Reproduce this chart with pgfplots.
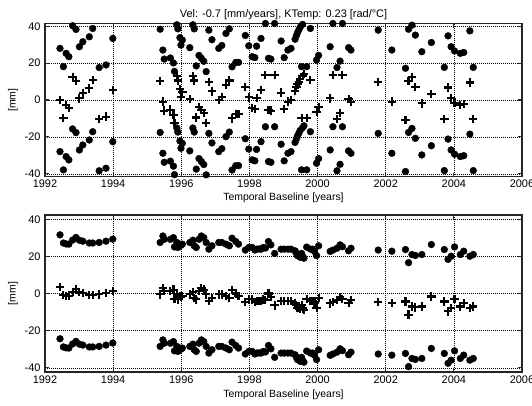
\documentclass[border=0pt]{standalone}
\usepackage{fontspec}
\setmainfont{Liberation Sans}
\usepackage{pgfplots}
\usepackage{pgfplotstable}
\pgfplotsset{compat=1.18}

% t: acquisition date, c: residual phase [mm], u/l: the same residual shifted by +/- one ambiguity (28 mm)
\pgfplotstableread{
t c u l
1992.44 0.0 28.0 -28.0
1992.54 -9.9 18.1 -37.9
1992.62 -2.7 25.3 -30.7
1992.70 -4.5 23.5 -32.5
1992.81 12.3 40.3 -15.7
1992.91 10.3 38.3 -17.7
1993.01 0.9 28.9 -27.1
1993.11 3.6 31.6 -24.4
1993.30 6.3 34.3 -21.7
1993.40 10.8 38.8 -17.2
1993.59 -10.4 17.6 -38.4
1993.79 -9.0 19.0 -37.0
1993.99 5.4 33.4 -22.6
1995.38 10.4 38.4 -17.6
1995.46 -0.9 27.1 -28.9
1995.50 -5.8 22.2 -33.8
1995.68 -5.2 22.8 -33.2
1995.77 -7.9 20.1 -35.9
1995.80 -12.5 15.5 -40.5
1995.87 12.8 40.8 -15.2
1995.90 10.6 38.6 -17.4
1995.96 5.8 33.8 -22.2
1995.99 1.8 29.8 -26.2
1996.03 4.5 32.5 -23.5
1996.25 0.4 28.4 -27.6
1996.34 12.8 40.8 -15.2
1996.38 10.6 38.6 -17.4
1996.44 -9.5 18.5 -37.5
1996.52 -3.8 24.2 -31.8
1996.59 -5.4 22.6 -33.4
1996.66 -7.0 21.0 -35.0
1996.73 -12.6 15.4 -40.6
1996.81 9.9 37.9 -18.1
1996.90 4.7 32.7 -23.3
1997.10 0.0 28.0 -28.0
1997.19 1.6 29.6 -26.4
1997.31 8.1 36.1 -19.9
1997.41 10.6 38.6 -17.4
1997.49 -10.0 18.0 -38.0
1997.60 -7.6 20.4 -35.6
1997.68 -7.6 20.4 -35.6
1997.88 7.0 35.0 -21.0
1997.98 1.4 29.4 -26.6
1998.08 -4.5 23.5 -32.5
1998.16 -5.0 23.0 -33.0
1998.21 1.2 29.2 -26.8
1998.34 5.4 33.4 -22.6
1998.47 13.5 41.5 -14.5
1998.56 -5.4 22.6 -33.4
1998.63 -5.8 22.2 -33.8
1998.74 13.5 41.5 -14.5
1998.93 4.0 32.0 -24.0
1999.02 -5.0 23.0 -33.0
1999.13 -0.9 27.1 -28.9
1999.22 0.0 28.0 -28.0
1999.34 5.0 33.0 -23.0
1999.38 7.0 35.0 -21.0
1999.41 8.5 36.5 -19.5
1999.45 10.0 38.0 -18.0
1999.49 11.5 39.5 -16.5
1999.53 -9.9 18.1 -37.9
1999.56 13.0 41.0 -15.0
1999.60 14.0 42.0 -14.0
1999.68 -9.9 18.1 -37.9
1999.79 10.8 38.8 -17.2
1999.97 -6.3 21.7 -34.3
2000.03 -3.8 24.2 -31.8
2000.37 0.9 28.9 -27.1
2000.45 13.5 41.5 -14.5
2000.57 -10.4 17.6 -38.4
2000.66 -6.9 21.1 -34.9
2000.73 13.5 41.5 -14.5
2000.91 0.4 28.4 -27.6
2000.98 -0.9 27.1 -28.9
2001.78 9.9 37.9 -18.1
2002.18 -0.9 27.1 -28.9
2002.58 -10.8 17.2 -38.8
2002.67 10.4 38.4 -17.6
2002.77 12.6 40.6 -15.4
2002.87 7.2 35.2 -20.8
2003.06 -1.8 26.2 -29.8
2003.34 3.2 31.2 -24.8
2003.72 -10.3 17.7 -38.3
2003.83 6.8 34.8 -21.2
2003.92 0.9 28.9 -27.1
2004.02 -1.4 26.6 -29.4
2004.19 -2.7 25.3 -30.7
2004.29 -2.2 25.8 -30.2
2004.47 9.5 37.5 -18.5
2004.57 -10.3 17.7 -38.3
}\wrapped

\pgfplotstableread{
t c u l
1992.44 3.6 31.6 -24.4
1992.54 -0.8 27.2 -28.8
1992.62 -1.3 26.7 -29.3
1992.70 -1.4 26.6 -29.4
1992.81 0.8 28.8 -27.2
1992.91 2.2 30.2 -25.8
1993.01 0.7 28.7 -27.3
1993.11 0.2 28.2 -27.8
1993.30 -0.8 27.2 -28.8
1993.40 -0.8 27.2 -28.8
1993.59 -0.5 27.5 -28.5
1993.79 0.2 28.2 -27.8
1993.99 1.3 29.3 -26.7
1995.38 -0.5 27.5 -28.5
1995.46 3.0 31.0 -25.0
1995.50 1.2 29.2 -26.8
1995.68 1.2 29.2 -26.8
1995.77 2.1 30.1 -25.9
1995.80 -2.9 25.1 -30.9
1995.87 -0.5 27.5 -28.5
1995.90 -3.2 24.8 -31.2
1995.96 -1.4 26.6 -29.4
1995.99 -2.0 26.0 -30.0
1996.03 -1.4 26.6 -29.4
1996.25 -0.5 27.5 -28.5
1996.34 0.7 28.7 -27.3
1996.38 -2.3 25.7 -30.3
1996.44 -3.2 24.8 -31.2
1996.52 1.2 29.2 -26.8
1996.59 3.0 31.0 -25.0
1996.66 2.1 30.1 -25.9
1996.73 -0.5 27.5 -28.5
1996.81 -4.1 23.9 -32.1
1996.90 -2.3 25.7 -30.3
1997.10 -0.5 27.5 -28.5
1997.19 -0.5 27.5 -28.5
1997.31 -1.4 26.6 -29.4
1997.41 -2.3 25.7 -30.3
1997.49 1.8 29.8 -26.2
1997.60 0.0 28.0 -28.0
1997.68 -1.4 26.6 -29.4
1997.88 -4.6 23.4 -32.6
1997.98 -3.2 24.8 -31.2
1998.08 -3.2 24.8 -31.2
1998.16 -4.6 23.4 -32.6
1998.21 -4.1 23.9 -32.1
1998.28 -4.0 24.0 -32.0
1998.34 -4.1 23.9 -32.1
1998.41 -3.2 24.8 -31.2
1998.47 -3.5 24.5 -31.5
1998.56 0.0 28.0 -28.0
1998.63 -1.8 26.2 -29.8
1998.74 -6.4 21.6 -34.4
1998.93 -4.1 23.9 -32.1
1999.02 -4.1 23.9 -32.1
1999.13 -4.1 23.9 -32.1
1999.22 -4.1 23.9 -32.1
1999.34 -5.0 23.0 -33.0
1999.38 -6.4 21.6 -34.4
1999.41 -7.6 20.4 -35.6
1999.45 -7.0 21.0 -35.0
1999.49 -8.5 19.5 -36.5
1999.53 -6.4 21.6 -34.4
1999.56 -8.0 20.0 -36.0
1999.60 -9.0 19.0 -37.0
1999.68 -3.0 25.0 -31.0
1999.79 -4.1 23.9 -32.1
1999.85 -4.1 23.9 -32.1
1999.91 -5.3 22.7 -33.3
1999.97 -7.6 20.4 -35.6
2000.03 -2.3 25.7 -30.3
2000.37 -5.3 22.7 -33.3
2000.45 -4.6 23.4 -32.6
2000.57 -3.6 24.4 -31.6
2000.66 -1.8 26.2 -29.8
2000.73 -2.8 25.2 -30.8
2000.91 -5.0 23.0 -33.0
2000.98 -3.6 24.4 -31.6
2001.78 -4.6 23.4 -32.6
2002.18 -5.2 22.8 -33.2
2002.58 -4.3 23.7 -32.3
2002.67 -11.4 16.6 -39.4
2002.77 -7.0 21.0 -35.0
2002.87 -7.5 20.5 -35.5
2003.06 -7.0 21.0 -35.0
2003.34 -1.6 26.4 -29.6
2003.72 -4.3 23.7 -32.3
2003.83 -9.6 18.4 -37.6
2003.92 -7.9 20.1 -35.9
2004.02 -2.9 25.1 -30.9
2004.19 -7.0 21.0 -35.0
2004.29 -5.2 22.8 -33.2
2004.47 -7.9 20.1 -35.9
2004.57 -7.0 21.0 -35.0
}\unwrapped

\pgfplotsset{
  panel/.style={
    scale only axis, width=477bp,
    xmin=1992, xmax=2006, xtick={1992,1994,...,2006},
    ytick={-40,-20,0,20,40},
    grid=major,
    major grid style={black, line width=0.45bp, dash pattern=on 0.7bp off 1.3bp},
    axis line style={line width=1.8bp, black!85},
    tick align=inside, xtick pos=both, ytick pos=both,
    major tick length=4bp,
    tick style={line width=1.2bp, black!85},
    /pgf/number format/assume math mode=true,
    /pgf/number format/1000 sep={},
    ticklabel style={font=\fontsize{11}{13}\selectfont},
    yticklabel style={xshift=-1bp},
    xlabel={Temporal Baseline [years]},
    xlabel style={font=\fontsize{10.5}{12}\selectfont, at={(0.5,0)}, anchor=base},
    ylabel={[mm]},
    ylabel style={font=\fontsize{10.5}{12}\selectfont, at={(0,0.5)}, anchor=center, yshift=32bp},
  },
  dots/.style={only marks, mark=*, mark size=3.4bp, black, mark options={draw=black, fill=black}},
  crosses/.style={only marks, mark=+, mark size=4.2bp, black, mark options={line width=2.1bp}},
}

\begin{document}
\begin{tikzpicture}
\useasboundingbox (0,0) rectangle (532bp,-406bp);

\node[anchor=base, font=\fontsize{11}{13}\selectfont] at (283.5bp,-17.5bp)
  {Vel: -0.7 [mm/years], KTemp: 0.23 [rad/°C]};

\begin{axis}[panel, at={(45bp,-23.5bp)}, anchor=north west, height=153bp,
  ymin=-41.5, ymax=41.5, xlabel style={yshift=-24bp}]
  \addplot[dots] table[x=t, y=u] {\wrapped};
  \addplot[dots] table[x=t, y=l] {\wrapped};
  \addplot[crosses] table[x=t, y=c] {\wrapped};
\end{axis}

\begin{axis}[panel, at={(45bp,-215bp)}, anchor=north west, height=157bp,
  ymin=-42.3, ymax=42.3, xlabel style={yshift=-25.5bp}]
  \addplot[dots] table[x=t, y=u] {\unwrapped};
  \addplot[dots] table[x=t, y=l] {\unwrapped};
  \addplot[crosses] table[x=t, y=c] {\unwrapped};
\end{axis}
\end{tikzpicture}
\end{document}
